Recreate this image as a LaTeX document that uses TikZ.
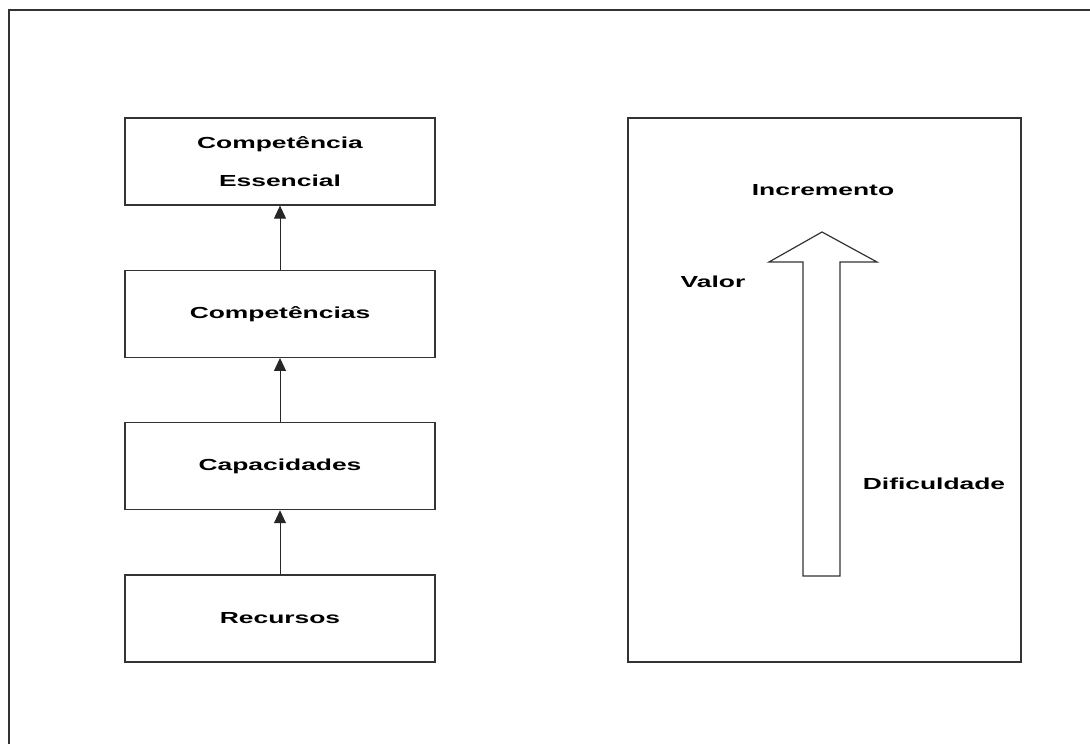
\documentclass[tikz,border=0pt]{standalone}
\usepackage{fontspec}
\setmainfont{Liberation Sans}
\newfontfamily\diagfont[FakeStretch=1.65]{Liberation Sans}
\usepackage{tikz}
\usetikzlibrary{arrows.meta,positioning}

\begin{document}
\begin{tikzpicture}[x=1pt,y=1pt,
    levelbox/.style={draw=black!80,line width=1.3pt,minimum width=310pt,
        minimum height=87pt,align=center,inner sep=0pt,
        font=\diagfont\bfseries\fontsize{16}{38}\selectfont},
    levelarrow/.style={-{Triangle[length=13pt,width=12pt]},draw=black!85,line width=1pt},
    sidelabel/.style={font=\diagfont\bfseries\fontsize{16}{18}\selectfont,anchor=base,inner sep=0pt}
]
\useasboundingbox (0,0) rectangle (1090,744);
\draw[black!80,line width=1.3pt] (9,0) -- (9,734) -- (1090,734);
% left column
\node[levelbox] (essential) at (280,582.5) {Competência\\Essencial};
\node[levelbox,below=64pt of essential] (competences) {Competências};
\node[levelbox,below=64pt of competences] (capacities) {Capacidades};
\node[levelbox,below=64pt of capacities] (resources) {Recursos};
\draw[levelarrow] (resources.north)--(capacities.south);
\draw[levelarrow] (capacities.north)--(competences.south);
\draw[levelarrow] (competences.north)--(essential.south);
% right panel
\node[draw=black!80,line width=1.3pt,minimum width=393pt,minimum height=544pt] (panel) at (824.5,354) {};
\draw[black!80,line width=1.2pt,fill=white] (803,168) -- (803,482) -- (769,482) -- (822,512)
    -- (877,482) -- (840,482) -- (840,168) -- cycle;
\node[sidelabel] (increment) at (823,548) {Incremento};
\node[sidelabel] (value) at (713,456) {Valor};
\node[sidelabel] (difficulty) at (934,254) {Dificuldade};
\end{tikzpicture}
\end{document}
